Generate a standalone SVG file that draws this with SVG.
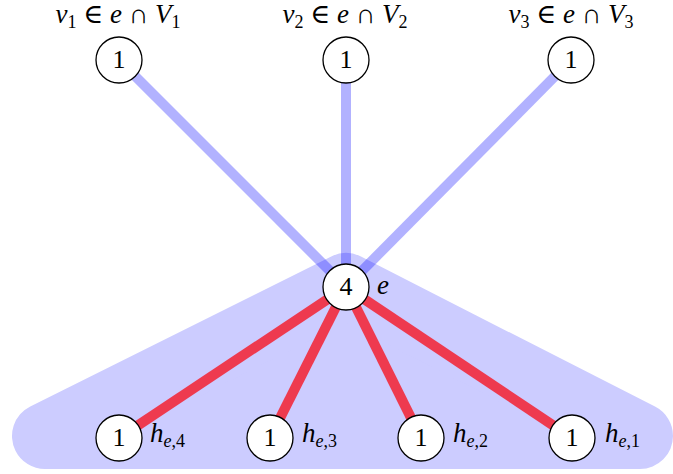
<svg xmlns="http://www.w3.org/2000/svg" width="673" height="474" viewBox="0 0 673 474">
<style>
.node circle{fill:#fff;stroke:#000;stroke-width:1.3}
.node text{font-family:"Liberation Serif","DejaVu Serif",serif;font-size:26px;text-anchor:middle;fill:#000}
.lbl{font-family:"Liberation Serif","DejaVu Serif",serif;font-size:27px;fill:#000}
.it{font-style:italic}
.sub{font-size:18px}
.blue{stroke:#0000ff;stroke-opacity:0.3;stroke-width:10;fill:none}
.red{stroke:#ee3a4f;stroke-width:10;fill:none}
</style>
<polygon id="hull" points="346,286 45,436 640,436" fill="#ccccff" stroke="#ccccff" stroke-width="66" stroke-linejoin="round"/>
<g id="connectors">
<line class="blue" x1="119" y1="60" x2="346" y2="287"/>
<line class="blue" x1="346" y1="60" x2="346" y2="287"/>
<line class="blue" x1="571" y1="60" x2="346" y2="287"/>
<line class="red" x1="346" y1="287" x2="119" y2="438"/>
<line class="red" x1="346" y1="287" x2="270" y2="438"/>
<line class="red" x1="346" y1="287" x2="421" y2="438"/>
<line class="red" x1="346" y1="287" x2="572" y2="438"/>
</g>
<g id="v1" class="node"><circle cx="119" cy="60" r="23"/><text x="119" y="68">1</text></g>
<g id="v2" class="node"><circle cx="346" cy="60" r="23"/><text x="346" y="68">1</text></g>
<g id="v3" class="node"><circle cx="571" cy="60" r="23"/><text x="571" y="68">1</text></g>
<g id="e" class="node"><circle cx="346" cy="287" r="23"/><text x="346" y="295">4</text></g>
<g id="h4" class="node"><circle cx="119" cy="438" r="23"/><text x="119" y="446">1</text></g>
<g id="h3" class="node"><circle cx="270" cy="438" r="23"/><text x="270" y="446">1</text></g>
<g id="h2" class="node"><circle cx="421" cy="438" r="23"/><text x="421" y="446">1</text></g>
<g id="h1" class="node"><circle cx="572" cy="438" r="23"/><text x="572" y="446">1</text></g>
<g id="labels">
<text class="lbl" x="118" y="23" text-anchor="middle"><tspan class="it">v</tspan><tspan class="sub" dy="5">1</tspan><tspan dy="-5"> ∈ </tspan><tspan class="it">e</tspan><tspan> ∩ </tspan><tspan class="it">V</tspan><tspan class="sub" dy="5">1</tspan></text>
<text class="lbl" x="345" y="23" text-anchor="middle"><tspan class="it">v</tspan><tspan class="sub" dy="5">2</tspan><tspan dy="-5"> ∈ </tspan><tspan class="it">e</tspan><tspan> ∩ </tspan><tspan class="it">V</tspan><tspan class="sub" dy="5">2</tspan></text>
<text class="lbl" x="571" y="23" text-anchor="middle"><tspan class="it">v</tspan><tspan class="sub" dy="5">3</tspan><tspan dy="-5"> ∈ </tspan><tspan class="it">e</tspan><tspan> ∩ </tspan><tspan class="it">V</tspan><tspan class="sub" dy="5">3</tspan></text>
<text class="lbl it" x="377" y="294">e</text>
<text class="lbl" x="150" y="442"><tspan class="it">h</tspan><tspan class="sub" dy="5"><tspan class="it">e</tspan>,4</tspan></text>
<text class="lbl" x="302" y="442"><tspan class="it">h</tspan><tspan class="sub" dy="5"><tspan class="it">e</tspan>,3</tspan></text>
<text class="lbl" x="453" y="442"><tspan class="it">h</tspan><tspan class="sub" dy="5"><tspan class="it">e</tspan>,2</tspan></text>
<text class="lbl" x="605" y="442"><tspan class="it">h</tspan><tspan class="sub" dy="5"><tspan class="it">e</tspan>,1</tspan></text>
</g>
</svg>
